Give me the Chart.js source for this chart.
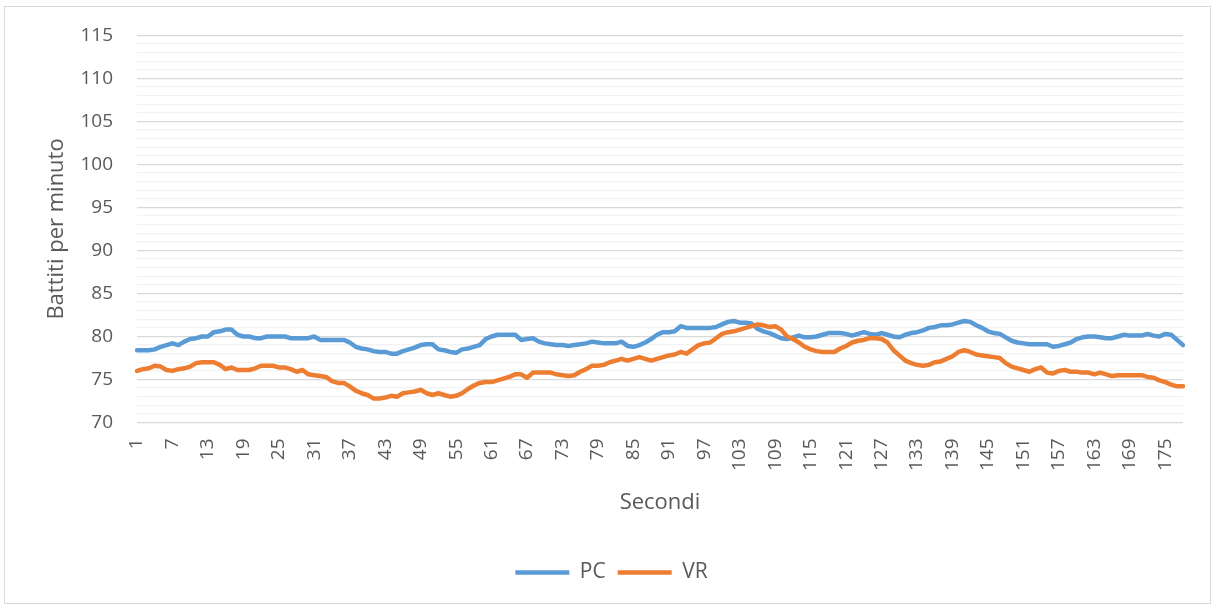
<!DOCTYPE html>
<html>
<head>
<meta charset="utf-8">
<script src="https://cdn.jsdelivr.net/npm/chart.js@4"></script>
<style>
  html, body { margin: 0; padding: 0; background: #ffffff; }
  #wrap { position: relative; width: 1214px; height: 608px; }
  #frame { position: absolute; left: 4px; top: 6px; width: 1205px; height: 596px; border: 1px solid #d9d9d9; pointer-events: none; }
</style>
</head>
<body>
<div id="wrap">
  <canvas id="hrChart" width="1214" height="608"></canvas>
  <div id="frame"></div>
</div>
<script>
// battiti al secondo, 178 campioni
const secondi = [];
for (let s = 1; s <= 178; s++) secondi.push(s);

const pc = [
  78.4, 78.4, 78.4, 78.5, 78.8, 79.0, 79.2, 79.0, 79.4, 79.7,
  79.8, 80.0, 80.0, 80.5, 80.6, 80.8, 80.8, 80.2, 80.0, 80.0,
  79.8, 79.8, 80.0, 80.0, 80.0, 80.0, 79.8, 79.8, 79.8, 79.8,
  80.0, 79.6, 79.6, 79.6, 79.6, 79.6, 79.3, 78.8, 78.6, 78.5,
  78.3, 78.2, 78.2, 78.0, 78.0, 78.3, 78.5, 78.7, 79.0, 79.1,
  79.1, 78.5, 78.4, 78.2, 78.1, 78.5, 78.6, 78.8, 79.0, 79.7,
  80.0, 80.2, 80.2, 80.2, 80.2, 79.6, 79.7, 79.8, 79.4, 79.2,
  79.1, 79.0, 79.0, 78.9, 79.0, 79.1, 79.2, 79.4, 79.3, 79.2,
  79.2, 79.2, 79.4, 78.9, 78.8, 79.0, 79.3, 79.7, 80.2, 80.5,
  80.5, 80.6, 81.2, 81.0, 81.0, 81.0, 81.0, 81.0, 81.1, 81.4,
  81.7, 81.8, 81.6, 81.6, 81.5, 80.9, 80.6, 80.4, 80.1, 79.8,
  79.7, 79.9, 80.1, 79.9, 79.9, 80.0, 80.2, 80.4, 80.4, 80.4,
  80.3, 80.1, 80.3, 80.5, 80.3, 80.2, 80.4, 80.2, 80.0, 79.9,
  80.2, 80.4, 80.5, 80.7, 81.0, 81.1, 81.3, 81.3, 81.4, 81.6,
  81.8, 81.7, 81.3, 81.0, 80.6, 80.4, 80.3, 79.9, 79.5, 79.3,
  79.2, 79.1, 79.1, 79.1, 79.1, 78.8, 78.9, 79.1, 79.3, 79.7,
  79.9, 80.0, 80.0, 79.9, 79.8, 79.8, 80.0, 80.2, 80.1, 80.1,
  80.1, 80.3, 80.1, 80.0, 80.3, 80.2, 79.6, 79.0
];

const vr = [
  76.0, 76.2, 76.3, 76.6, 76.5, 76.1, 76.0, 76.2, 76.3, 76.5,
  76.9, 77.0, 77.0, 77.0, 76.7, 76.2, 76.4, 76.1, 76.1, 76.1,
  76.3, 76.6, 76.6, 76.6, 76.4, 76.4, 76.2, 75.9, 76.1, 75.6,
  75.5, 75.4, 75.3, 74.8, 74.6, 74.6, 74.2, 73.7, 73.4, 73.2,
  72.8, 72.8, 72.9, 73.1, 73.0, 73.4, 73.5, 73.6, 73.8, 73.4,
  73.2, 73.4, 73.2, 73.0, 73.1, 73.4, 73.9, 74.3, 74.6, 74.7,
  74.7, 74.9, 75.1, 75.3, 75.6, 75.6, 75.2, 75.8, 75.8, 75.8,
  75.8, 75.6, 75.5, 75.4, 75.5, 75.9, 76.2, 76.6, 76.6, 76.7,
  77.0, 77.2, 77.4, 77.2, 77.4, 77.6, 77.4, 77.2, 77.4, 77.6,
  77.8, 77.9, 78.2, 78.0, 78.5, 79.0, 79.2, 79.3, 79.8, 80.3,
  80.5, 80.6, 80.8, 81.0, 81.2, 81.4, 81.3, 81.1, 81.2, 80.8,
  80.0, 79.7, 79.3, 78.8, 78.5, 78.3, 78.2, 78.2, 78.2, 78.6,
  78.9, 79.3, 79.5, 79.6, 79.8, 79.8, 79.7, 79.3, 78.4, 77.8,
  77.2, 76.9, 76.7, 76.6, 76.7, 77.0, 77.1, 77.4, 77.7, 78.2,
  78.4, 78.2, 77.9, 77.8, 77.7, 77.6, 77.5, 76.9, 76.5, 76.3,
  76.1, 75.9, 76.2, 76.4, 75.8, 75.7, 76.0, 76.1, 75.9, 75.9,
  75.8, 75.8, 75.6, 75.8, 75.6, 75.4, 75.5, 75.5, 75.5, 75.5,
  75.5, 75.3, 75.2, 74.9, 74.7, 74.4, 74.2, 74.2
];

const yMin = 70;
const yMax = 115;

const textColor = '#595959';
const fontFamily = '"Open Sans", "Liberation Sans", sans-serif';

const ctx = document.getElementById('hrChart').getContext('2d');

new Chart(ctx, {
  type: 'line',
  data: {
    labels: secondi,
    datasets: [
      {
        label: 'PC',
        data: pc,
        borderColor: '#5b9bd5',
        backgroundColor: '#5b9bd5',
        borderWidth: 4.5,
        borderCapStyle: 'round',
        borderJoinStyle: 'round',
        pointRadius: 0,
        tension: 0,
        order: 1
      },
      {
        label: 'VR',
        data: vr,
        borderColor: '#ed7d31',
        backgroundColor: '#ed7d31',
        borderWidth: 4.5,
        borderCapStyle: 'round',
        borderJoinStyle: 'round',
        pointRadius: 0,
        tension: 0,
        order: 0   // VR disegnata sopra PC
      }
    ]
  },
  options: {
    responsive: false,
    animation: false,
    layout: {
      padding: { left: 40, top: 35, right: 31, bottom: 15 }
    },
    plugins: {
      tooltip: { enabled: false },
      legend: {
        position: 'bottom',
        labels: {
          usePointStyle: true,
          pointStyle: 'line',
          pointStyleWidth: 54,
          padding: 12,
          color: textColor,
          font: { family: fontFamily, size: 21 },
          sort: function(a, b) { return a.datasetIndex - b.datasetIndex; }
        }
      }
    },
    scales: {
      x: {
        offset: false,
        grid: { display: false, drawTicks: false },
        border: { display: false },
        title: {
          display: true,
          text: 'Secondi',
          color: textColor,
          font: { family: fontFamily, size: 22 },
          padding: { top: 4, bottom: 34 }
        },
        ticks: {
          autoSkip: false,
          minRotation: 90,
          maxRotation: 90,
          padding: 16,
          color: textColor,
          font: { family: fontFamily, size: 19 },
          callback: function(value, index) {
            return index % 6 === 0 ? this.getLabelForValue(value) : '';
          }
        },
        afterFit: function(scale) {
          scale.height = 127.5;
          scale.paddingRight = 0;
        }
      },
      y: {
        min: yMin,
        max: yMax,
        grid: {
          drawTicks: false,
          color: function(c) {
            return c.tick && c.tick.value % 5 === 0 ? '#d9d9d9' : '#f2f2f2';
          },
          lineWidth: 1.3
        },
        border: { display: false },
        title: {
          display: true,
          text: 'Battiti per minuto',
          color: textColor,
          font: { family: fontFamily, size: 22 },
          padding: { top: 4, bottom: 4 }
        },
        ticks: {
          stepSize: 1,
          autoSkip: false,
          padding: 24,
          color: textColor,
          font: { family: fontFamily, size: 19 },
          callback: function(value) {
            return value % 5 === 0 ? value : '';
          }
        },
        afterFit: function(scale) { scale.width = 97; }
      }
    }
  }
});
</script>
</body>
</html>
